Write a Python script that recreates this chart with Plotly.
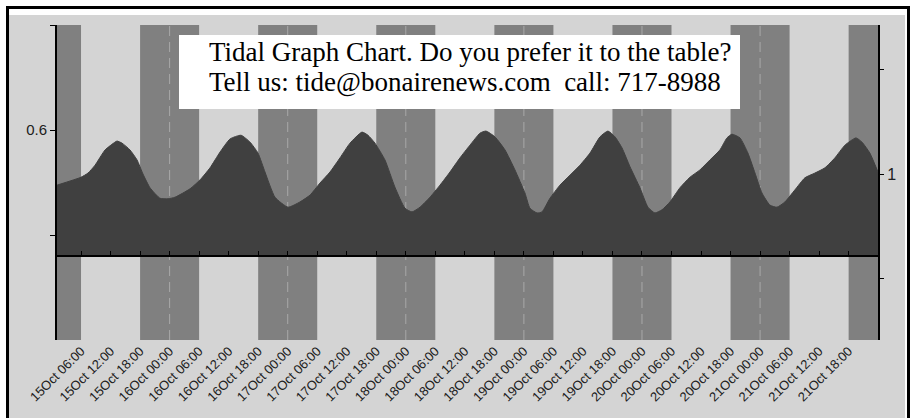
import plotly.graph_objects as go

# ---------------- data ----------------
tide_time = [
    "2009-10-15 01:07", "2009-10-15 06:00", "2009-10-15 07:25", "2009-10-15 08:51",
    "2009-10-15 10:53", "2009-10-15 12:55", "2009-10-15 13:19", "2009-10-15 14:20",
    "2009-10-15 15:57", "2009-10-15 17:23", "2009-10-15 18:36", "2009-10-15 20:01",
    "2009-10-15 22:03", "2009-10-15 23:41", "2009-10-16 01:06", "2009-10-16 04:09",
    "2009-10-16 06:11", "2009-10-16 08:13", "2009-10-16 10:15", "2009-10-16 12:17",
    "2009-10-16 14:31", "2009-10-16 16:20", "2009-10-16 17:58", "2009-10-16 19:23",
    "2009-10-16 21:25", "2009-10-17 00:04", "2009-10-17 02:30", "2009-10-17 04:32",
    "2009-10-17 06:34", "2009-10-17 08:36", "2009-10-17 10:38", "2009-10-17 12:40",
    "2009-10-17 15:06", "2009-10-17 16:19", "2009-10-17 17:44", "2009-10-17 19:46",
    "2009-10-17 21:48", "2009-10-17 23:50", "2009-10-18 01:16", "2009-10-18 02:53",
    "2009-10-18 04:55", "2009-10-18 06:57", "2009-10-18 08:59", "2009-10-18 11:01",
    "2009-10-18 13:02", "2009-10-18 15:05", "2009-10-18 16:18", "2009-10-18 18:07",
    "2009-10-18 20:10", "2009-10-18 22:11", "2009-10-19 00:13", "2009-10-19 01:14",
    "2009-10-19 02:40", "2009-10-19 03:41", "2009-10-19 05:18", "2009-10-19 07:20",
    "2009-10-19 09:22", "2009-10-19 11:24", "2009-10-19 13:26", "2009-10-19 15:28",
    "2009-10-19 17:05", "2009-10-19 18:31", "2009-10-19 19:56", "2009-10-19 21:34",
    "2009-10-19 23:35", "2009-10-20 01:13", "2009-10-20 02:38", "2009-10-20 04:04",
    "2009-10-20 05:41", "2009-10-20 07:43", "2009-10-20 09:45", "2009-10-20 11:47",
    "2009-10-20 13:49", "2009-10-20 15:50", "2009-10-20 17:16", "2009-10-20 18:17",
    "2009-10-20 19:55", "2009-10-20 21:32", "2009-10-20 22:58", "2009-10-21 00:23",
    "2009-10-21 02:00", "2009-10-21 03:26", "2009-10-21 05:03", "2009-10-21 07:05",
    "2009-10-21 09:07", "2009-10-21 11:09", "2009-10-21 13:11", "2009-10-21 15:13",
    "2009-10-21 17:14", "2009-10-21 19:29", "2009-10-21 20:42", "2009-10-21 22:19",
    "2009-10-21 23:58",
]
tide_level = [
    0.495, 0.510, 0.518, 0.533, 0.562, 0.577, 0.579, 0.575, 0.562, 0.543, 0.516, 0.490,
    0.470, 0.469, 0.472, 0.488, 0.505, 0.528, 0.558, 0.583, 0.590, 0.577, 0.556, 0.520,
    0.472, 0.453, 0.463, 0.476, 0.499, 0.520, 0.547, 0.575, 0.596, 0.590, 0.575, 0.543,
    0.491, 0.451, 0.444, 0.453, 0.472, 0.495, 0.520, 0.547, 0.571, 0.594, 0.598, 0.587,
    0.562, 0.524, 0.480, 0.451, 0.442, 0.444, 0.470, 0.495, 0.514, 0.533, 0.556, 0.587,
    0.598, 0.587, 0.566, 0.530, 0.490, 0.453, 0.442, 0.448, 0.463, 0.490, 0.510, 0.524,
    0.543, 0.562, 0.585, 0.592, 0.585, 0.556, 0.518, 0.480, 0.457, 0.453, 0.463, 0.486,
    0.509, 0.518, 0.528, 0.547, 0.571, 0.585, 0.577, 0.556, 0.520,
]

night_start = ["2009-10-14 18:00", "2009-10-15 18:00", "2009-10-16 18:00", "2009-10-17 18:00",
               "2009-10-18 18:00", "2009-10-19 18:00", "2009-10-20 18:00", "2009-10-21 18:00"]
night_end = ["2009-10-15 06:00", "2009-10-16 06:00", "2009-10-17 06:00", "2009-10-18 06:00",
             "2009-10-19 06:00", "2009-10-20 06:00", "2009-10-21 06:00", "2009-10-22 06:00"]
midnights = ["2009-10-16 00:00", "2009-10-17 00:00", "2009-10-18 00:00",
             "2009-10-19 00:00", "2009-10-20 00:00", "2009-10-21 00:00"]

tick_times = ["2009-10-%02d %02d:00" % (d, h) for d in range(15, 22) for h in (0, 6, 12, 18)]
tick_times = [t for t in tick_times if "2009-10-15 06:00" <= t <= "2009-10-21 18:00"]
tick_labels = ["%sOct %s" % (t[8:10], t[11:16]) for t in tick_times]

x_start, x_end = "2009-10-15 01:07", "2009-10-21 23:58"
y_min, y_max = 0.2, 0.8
base_level = 0.36
left_ticks, left_text = [0.4, 0.6, 0.8], ["", "0.6", ""]
right_range = [0.208, 1.715]
right_ticks, right_text = [0.5, 1.0, 1.5], ["", "1", ""]

title_1 = "Tidal Graph Chart. Do you prefer it to the table?"
title_2 = "Tell us: tide@bonairenews.com \u00a0call: 717-8988"

# ---------------- figure ----------------
W, H = 912, 418
ML, MR, MT, MB = 57, 34, 25, 78
PW, PH = W - ML - MR, H - MT - MB


def px(xp):
    return (xp - ML) / PW


def py(yp):
    return (H - MB - yp) / PH


fig = go.Figure()

fig.add_trace(go.Scatter(x=[x_start, x_end], y=[base_level, base_level], mode="lines",
                         line=dict(width=0, color="#404040"), hoverinfo="skip"))
fig.add_trace(go.Scatter(x=tide_time, y=tide_level, mode="lines", fill="tonexty",
                         fillcolor="#404040", line=dict(color="#404040", width=1,
                                                        shape="spline", smoothing=0.5),
                         hoverinfo="skip"))
# helpers so the extra axes are drawn
fig.add_trace(go.Scatter(x=[x_start, x_end], y=[base_level, base_level], xaxis="x2",
                         yaxis="y", mode="lines", line=dict(width=0), opacity=0,
                         hoverinfo="skip"))
fig.add_trace(go.Scatter(x=[x_start], y=[1.0], xaxis="x", yaxis="y2", mode="markers",
                         opacity=0, hoverinfo="skip"))

shapes = []
# outer frame and gray panel
shapes.append(dict(type="rect", xref="paper", yref="paper", layer="below",
                   x0=px(7.5), x1=px(908.5), y0=py(440), y1=py(7.5),
                   fillcolor="white", line=dict(color="black", width=3)))
shapes.append(dict(type="rect", xref="paper", yref="paper", layer="below",
                   x0=px(9), x1=px(905), y0=py(440), y1=py(15),
                   fillcolor="#d4d4d4", line=dict(width=0)))
for s, e in zip(night_start, night_end):
    shapes.append(dict(type="rect", xref="x", yref="paper", layer="below",
                       x0=s, x1=e, y0=0, y1=1, fillcolor="#808080", line=dict(width=0)))
for m in midnights:
    shapes.append(dict(type="line", xref="x", yref="paper", layer="below",
                       x0=m, x1=m, y0=0, y1=1,
                       line=dict(color="#a8a8a8", width=1, dash="10px,6px")))
# title box
shapes.append(dict(type="rect", xref="paper", yref="paper", layer="above",
                   x0=px(179), x1=px(740), y0=py(109), y1=py(35),
                   fillcolor="white", line=dict(width=0)))

serif = "Liberation Serif, Times New Roman, serif"
sans = "Liberation Sans, Arial, sans-serif"

fig.update_layout(
    width=W, height=H,
    margin=dict(l=ML, r=MR, t=MT, b=MB, pad=0),
    paper_bgcolor="white", plot_bgcolor="#f4f4f4",
    showlegend=False, hovermode=False,
    shapes=shapes,
    annotations=[
        dict(text=title_1, xref="paper", yref="paper", x=px(207), y=py(52),
             xanchor="left", yanchor="middle", showarrow=False,
             font=dict(family=serif, size=27, color="black")),
        dict(text=title_2, xref="paper", yref="paper", x=px(207), y=py(82),
             xanchor="left", yanchor="middle", showarrow=False,
             font=dict(family=serif, size=27, color="black")),
    ],
    xaxis=dict(type="date", range=[x_start, x_end], showgrid=False, zeroline=False,
               showline=False, ticks="", tickvals=tick_times, ticktext=tick_labels,
               tickangle=-45, tickfont=dict(family=sans, size=13, color="#202020")),
    xaxis2=dict(type="date", overlaying="x", matches="x", anchor="free",
                position=(base_level - y_min) / (y_max - y_min),
                showgrid=False, zeroline=False, showline=True, linecolor="black",
                linewidth=2, ticks="inside", ticklen=4, tickwidth=1, tickcolor="black",
                tickvals=tick_times, showticklabels=False),
    yaxis=dict(range=[y_min, y_max], showgrid=False, zeroline=False, showline=True,
               linecolor="black", linewidth=2, ticks="outside", ticklen=5,
               tickwidth=1, tickcolor="black", tickvals=left_ticks, ticktext=left_text,
               tickfont=dict(family=sans, size=15, color="#202020")),
    yaxis2=dict(overlaying="y", side="right", range=right_range, showgrid=False,
                zeroline=False, showline=True, linecolor="black", linewidth=2,
                ticks="outside", ticklen=4, tickwidth=1, tickcolor="black",
                tickvals=right_ticks, ticktext=right_text,
                tickfont=dict(family=sans, size=16, color="#202020")),
)

fig.write_html("out.html", config={"displayModeBar": False, "staticPlot": True},
               post_script="document.body.style.margin='0px';document.body.style.overflow='hidden';")
